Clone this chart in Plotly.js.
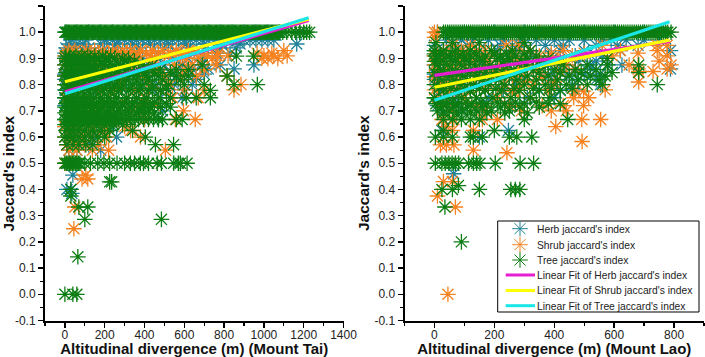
<!DOCTYPE html>
<html><head><meta charset="utf-8">
<script src="https://cdn.plot.ly/plotly-3.0.1.min.js"></script>
<style>html,body{margin:0;padding:0;background:#fff}#c{width:705px;height:357px}</style>
</head><body><div id="c"></div>
<script>
// ---- Mount Tai: y levels and the x positions of points in each level
const taiHerbLevels=[1,.97,.955,.94,.92,.9,.875,.86,.84,.82,.8,.78,.75,.72,.7,.667,.64,.6,.57,.55,.455,.4,.385];
const taiHerbX=[
[5,60,120,180,240,300,360,420,480,540,600,660,720,780,840,900,960,1020,1080,1180],
[30,105,200,210,240,270,300,330,360,390,420,450,480,510,540,570,600,630,660,690,720,750,780,810,840,870,900,930,960,990,1020,1050],
[20,60,90,180,260,340,430,520,610,700,790,880,1165],
[5,50,120,250,370,500,620,700,780,860],
[0,40,110,190,280,360,470,560,650,760,830],
[0,20,60,130,210,300,390,480,550,620,700],
[0,30,90,170,250,330,420,500,590,680,780,950],
[5,60,130,220,310,400,480,570,640,720,850],
[0,40,100,190,270,360,450,530,610,700],
[0,70,140,230,320,410,490,570,660],
[10,50,120,210,300,380,460,550,640],
[0,90,170,260,350,440,520,600],
[0,40,130,220,310,400,480,590],
[0,70,160,250,340,420],
[10,50,140,230,320,380,490],
[0,30,80,130,180,250,310,400,470],
[0,60,120,180,240],
[0,40,90,150,260],
[10,70,120],
[20,60,180],
[40],[10,30],[35]];
const taiShrubLevels=[.93,.92,.91,.9,.875,.857,.833,.8,.78,.75,.72,.7,.667,.64,.625,.6,.57,.55,.5,.455,.44,.333,.25];
const taiShrubX=[
[20,50,110,150,190,240,290,330,380,440,490,560,620,1100],
[10,60,100,170,220,270,310,350,410,470,530,590,650,690,770,966,1040],
[0,30,80,130,260,300,370,430,520,580,715,765,820,1000,1050,1117],
[40,200,340,450,610,670,740,990,1020,1070],
[0,20,80,150,240,350,430,550,640,760],
[10,60,170,260,340,460,600,700],
[0,110,210,300,390,500,590,660,815],
[0,30,90,180,280,420,530,885],
[70,160,250,360,480,600,700,850],
[10,120,220,310,400,540,670],
[30,90,170,260,380,450],
[20,60,130,220,340,596],
[10,50,100,160,230,310,400,555,655],
[0,40,80,140,200,300],
[20,70,130,190,330],
[0,30,80,130,210,380],
[10,50,100,170],
[20,60,138,220,505],
[0,30],[105],[86,115],[50],[45]];
const taiTreeLevels=[1,.909,.9,.889,.875,.857,.846,.833,.818,.8,.786,.778,.75,.733,.727,.714,.7,.692,.667,.647,.625,.6,.571,.5,.429,.4,.375,.333,.286,.143,0];
const taiTreeX=[
[0,6,12,18,24,30,36,42,48,54,60,66,72,78,84,90,96,102,108,114,120,126,132,138,144,150,156,162,168,174,180,186,192,198,204,210,216,222,228,234,240,246,252,258,264,270,276,282,288,294,300,306,312,318,324,330,336,342,348,354,360,366,372,378,384,390,396,402,408,414,420,426,432,438,444,450,456,462,468,474,480,486,492,498,504,510,516,522,528,534,540,546,552,558,564,570,576,582,588,594,600,606,612,618,624,630,636,642,648,654,660,666,672,678,684,690,696,702,708,714,720,726,732,738,744,750,756,762,768,774,780,786,792,798,804,810,816,822,828,834,840,846,852,858,864,870,876,882,888,894,900,906,912,918,924,930,936,942,948,954,960,966,972,978,984,990,996,1002,1008,1014,1020,1026,1032,1038,1044,1050,1056,1062,1068,1074,1080,1095,1115,1140,1160,1180,1200,1215,1230],
[5,25,55,85,115,150,190,230,862,948],
[0,20,45,70,100,130,170,205,250,290,320],
[10,35,60,90,120,150,180,220,260,300,350],
[0,25,50,75,110,140,170,200,240,280,330,390,440,690],
[15,40,65,95,125,155,190,225,270,310,370,420,480,560,620],
[5,30,55,85,115,145,180,215,255,300,345,400,450,530],
[0,20,45,70,100,130,160,195,235,275,320,365,410,470,560,620,815],
[10,35,60,90,120,150,185,225,265,310,360,420,490,580],
[0,25,50,80,110,140,175,210,250,290,340,390,440,520,600,700,850,967],
[15,40,70,100,130,165,200,240,285,330,380,440,510],
[5,30,60,90,120,155,190,230,270,320,370,420,480,731],
[0,25,50,80,110,145,180,220,260,310,360,410,470,530,610,660,731],
[15,40,70,100,130,170,210,250,300,350,400,450],
[5,35,65,95,125,160,200,245,290,340,395,440,510],
[0,25,55,85,115,150,190,230,280,335,385,430,480,530],
[10,40,70,100,135,175,220,270,320,375,420],
[0,30,60,90,125,165,210,260,305,360,405,450],
[0,10,20,30,40,50,60,70,80,90,100,110,120,130,140,150,160,170,180,190,200,210,220,230,240,250,260,270,290,310,330,350,370,395,420,445,470,490,560,589],
[0,25,55,85,120,160,200,245,290],
[5,35,65,100,140,180,225,340],
[0,20,45,70,100,130,165,200,404],
[10,40,70,105,140,455,546],
[0,8,15,23,30,38,45,53,60,68,75,100,128,165,196,225,262,300,329,350,379,395,420,464,485,547,570,580,614],
[225,235],[30],[30],[70,115],[100,485],[65],[0,40,60]];
const taiFitX=[0,1225];
const taiHerbFit=[.773,1.045];
const taiShrubFit=[.811,1.05];
const taiTreeFit=[.765,1.055];

// ---- Mount Lao
const laoHerbLevels=[1,.97,.95,.93,.91,.89,.875,.86,.84,.82,.8,.78,.75,.72,.7,.625,.6,.46];
const laoHerbX=[
[10,100,200,300,400,500,600,700],
[40,90,130,180,230,290,340,400,450,500,560,590,640,700,750],
[0,60,110,220,260,300,370,430,540,610,680],
[0,30,80,150,210,280,420,500,620,788],
[0,50,120,260,330,390,470,560],
[10,70,180,240,350,410,480,540],
[0,90,160,290,380,440,520,580,626],
[20,130,220,340,410,470,530,788],
[0,60,150,250,380,450,500,554],
[0,90,190,300,410,480,540],
[10,50,140,270,390,460,554],
[20,100,230,350,420,470],
[0,30,70,180,310,400],
[10,60,150,260],
[30,90,170],
[25,247],[150],[64]];
const laoShrubLevels=[1,.98,.95,.93,.92,.91,.89,.875,.86,.85,.83,.81,.8,.78,.775,.75,.72,.7,.667,.64,.625,.583,.57,.55,.54,.43,.375,.333,0];
const laoShrubX=[
[0,10,350],[0],
[60,120,240,280,560,744,777],
[30,90,140,170,260,320,430,621,744],
[10,60,110,200,300,390,500,680],
[0,40,90,150,250,350,460,593,777],
[20,80,130,180,280,410,750],
[0,50,100,220,310,440,650,790],
[10,70,160,240,340,470,777,680],
[30,120,200,290,420,682,730],
[0,60,150,260,360],
[20,90,180,300,400,682],
[40,130,230,330],
[0,80,170,280,380,570],
[50,120,260,470,498],
[10,100,210,320,465,515],
[30,140,250,360,430,498],
[60,170,290,390,440],
[25,65,160,210,492,555],
[405,40],[130,60],[493],[20,40,65],[130],[242],[30,60],[10],[70],[45]];
const laoTreeLevels=[1,.96,.93,.917,.909,.9,.889,.875,.857,.846,.833,.818,.8,.786,.778,.75,.733,.727,.714,.7,.692,.667,.625,.6,.5,.415,.4,.333,.2];
const laoTreeX=[
[30,37,44,51,58,65,72,79,86,93,100,107,114,121,128,135,142,149,156,163,170,177,184,191,198,205,212,219,226,233,240,247,254,261,268,275,282,289,296,303,310,317,324,331,338,345,352,359,366,373,380,387,394,401,408,415,422,429,436,443,450,457,464,471,478,485,492,499,506,513,520,527,534,541,548,555,562,569,576,583,590,597,604,611,618,625,632,639,646,653,660,667,674,681,688,695,702,709,716,723,730,737,744,751,758,765,772,779,790],
[5,60,150,300],
[0,30,70,120,190,260,320],
[0,20,55,95,140,200,240,300],
[5,40,80,120,170,220,270,340],
[15,55,100,150,210,250,310,380,577],
[0,30,70,115,160,230,290,350],
[10,45,90,135,185,245,305,370,430,510,577,682],
[20,60,105,150,205,265,330,400,470,540],
[0,35,75,120,170,225,285,350,420,490,593,682],
[10,50,95,140,190,250,310,380,450,520,570],
[25,65,110,160,215,275,340,410,480,550],
[0,40,85,130,180,235,300,370,440,510,560,744],
[15,55,100,150,205,265,330,390,460],
[30,75,120,170,225,285,350,420],
[0,45,90,140,195,255,320,385],
[20,60,105,155,210,270,340],
[5,40,80,125,175,235,300,380,420],
[25,65,110,160,220,285,350],
[10,50,95,140,190,250],
[30,75,120,175,235,310],
[30,60,90,120,150,300,445],
[30,200],
[3,30,60,120,130,160,250,275,325],
[3,25,36,48,59,70,81,114,130,141,152,203,286,331],
[80],[25,60,150,255,270,285],[35],[90]];
const laoFitX=[0,785];
const laoHerbFit=[.835,.965];
const laoShrubFit=[.79,.97];
const laoTreeFit=[.74,1.04];

// ---- tick labels
const yTickVals=[-.1,0,.1,.2,.3,.4,.5,.6,.7,.8,.9,1,1.1];
const yTickText=['-0.1','0.0','0.1','0.2','0.3','0.4','0.5','0.6','0.7','0.8','0.9','1.0','1.1'];

// ---- legend text
const legendMarkerNames=["Herb jaccard's index","Shrub jaccard's index","Tree jaccard's index"];
const legendLineNames=["Linear Fit of Herb jaccard's index","Linear Fit of Shrub jaccard's index","Linear Fit of Tree jaccard's index"];

const HERB='#1f8296',SHRUB='#f5821f',TREE='#0b7d12',MAG='#e61ed2',YEL='#ffff00',CYA='#19e6e6';
const W=705,H=357;
const fx=p=>p/W, fy=p=>1-p/H;

function scatter(levels,xs,color,ax,ay){
  const x=[],y=[];
  levels.forEach((l,i)=>xs[i].forEach(v=>{x.push(v);y.push(l);}));
  return {x,y,xaxis:ax,yaxis:ay,type:'scatter',mode:'markers',hoverinfo:'skip',
    marker:{symbol:'asterisk-open',size:13,color,line:{color,width:1.3}}};
}
function fit(x,y,color,ax,ay){
  return {x,y,xaxis:ax,yaxis:ay,type:'scatter',mode:'lines',hoverinfo:'skip',line:{color,width:3.2}};
}
const data=[
 scatter(taiHerbLevels,taiHerbX,HERB,'x','y'),
 scatter(taiShrubLevels,taiShrubX,SHRUB,'x','y'),
 scatter(taiTreeLevels,taiTreeX,TREE,'x','y'),
 fit(taiFitX,taiHerbFit,MAG,'x','y'),fit(taiFitX,taiShrubFit,YEL,'x','y'),fit(taiFitX,taiTreeFit,CYA,'x','y'),
 scatter(laoHerbLevels,laoHerbX,HERB,'x2','y2'),
 scatter(laoShrubLevels,laoShrubX,SHRUB,'x2','y2'),
 scatter(laoTreeLevels,laoTreeX,TREE,'x2','y2'),
 fit(laoFitX,laoHerbFit,MAG,'x2','y2'),fit(laoFitX,laoShrubFit,YEL,'x2','y2'),fit(laoFitX,laoTreeFit,CYA,'x2','y2')
];
// legend key samples, in their own hidden pixel-sized axes
[HERB,SHRUB,TREE].forEach((c,i)=>{
  data.push({x:[520],y:[[228.7,244.7,260][i]],xaxis:'x3',yaxis:'y3',type:'scatter',mode:'markers',hoverinfo:'skip',
    marker:{symbol:'asterisk-open',size:13,color:c,line:{color:c,width:1}}});
});
const font='"Liberation Sans", Arial, sans-serif', TC='#222';
function xa(domain,range,title,anchor){
  return {domain,range,anchor,tick0:0,dtick:200,tickmode:'linear',showgrid:false,zeroline:false,showline:true,
    linecolor:'#000',linewidth:2,ticks:'outside',ticklen:5,tickwidth:1.5,tickcolor:'#000',ticklabelstandoff:-3,
    minor:{dtick:100,tick0:0,ticks:'outside',ticklen:3,tickwidth:1.2,tickcolor:'#000'},
    tickfont:{family:font,size:12,color:TC},
    title:{text:title,standoff:4,font:{family:font,size:15,color:'#111',weight:'bold'}}};
}
function ya(domain,range,anchor){
  return {domain,range,anchor,tickmode:'array',tickvals:yTickVals,ticktext:yTickText,showgrid:false,zeroline:false,showline:true,
    linecolor:'#000',linewidth:2,ticks:'outside',ticklen:5,tickwidth:1.5,tickcolor:'#000',
    minor:{dtick:.05,tick0:0,ticks:'outside',ticklen:3,tickwidth:1.2,tickcolor:'#000'},
    tickfont:{family:font,size:12,color:TC}};
}
const yDom=[fy(320.5),fy(6)];
const annotations=[];
[[8,"Jaccard's index"],[363.5,"Jaccard's index"]].forEach(([px,t])=>{
  annotations.push({xref:'paper',yref:'paper',x:fx(px),y:fy(173.5),xanchor:'center',yanchor:'middle',showarrow:false,textangle:-90,
    text:'<b>'+t+'</b>',font:{family:font,size:15.5,color:'#111'}});
});
legendMarkerNames.concat(legendLineNames).forEach((t,i)=>{
  annotations.push({xref:'paper',yref:'paper',x:fx(537),y:fy([229.5,245,260.5,275.5,290.5,306][i]),xanchor:'left',yanchor:'middle',
    showarrow:false,text:t,font:{family:font,size:10.3,color:'#222'},borderpad:0,xshift:-1});
});
const shapes=[{type:'rect',xref:'paper',yref:'paper',x0:fx(497.7),x1:fx(699),y0:fy(312),y1:fy(221),line:{color:'#000',width:1},fillcolor:'#fff',layer:'below'}];
[[MAG,275],[YEL,290.5],[CYA,305.7]].forEach(([c,py])=>{
  shapes.push({type:'line',xref:'paper',yref:'paper',x0:fx(505.7),x1:fx(535),y0:fy(py),y1:fy(py),line:{color:c,width:3}});
});
const layout={width:W,height:H,autosize:false,margin:{l:0,r:0,t:0,b:0},showlegend:false,paper_bgcolor:'#fff',plot_bgcolor:'rgba(0,0,0,0)',
  xaxis:xa([fx(45),fx(343.5)],[-100,1400],'Altitudinal divergence (m) (Mount Tai)','y'),
  yaxis:ya(yDom,[-.1,1.1],'x'),
  xaxis2:xa([fx(404.5),fx(704)],[-100,900],'Altitudinal divergence (m) (Mount Lao)','y2'),
  yaxis2:ya(yDom,[-.1,1.1],'x2'),
  xaxis3:{domain:[0,1],range:[0,W],visible:false,anchor:'y3',fixedrange:true},
  yaxis3:{domain:[0,1],range:[H,0],visible:false,anchor:'x3',fixedrange:true},
  annotations,shapes};
Plotly.newPlot('c',data,layout,{displayModeBar:false,staticPlot:true});
</script></body></html>
